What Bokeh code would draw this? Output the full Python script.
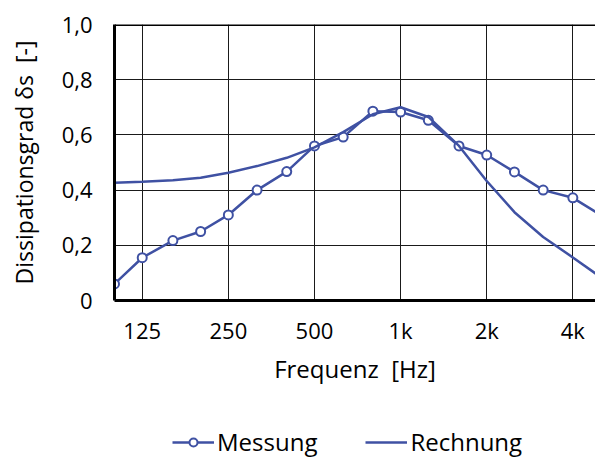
from bokeh.plotting import figure
from bokeh.layouts import column
from bokeh.models import FixedTicker, Legend, LegendItem, Span
from bokeh.embed import file_html
from bokeh.resources import INLINE

# third-octave band centre frequencies [Hz]
freq = [100, 125, 160, 200, 250, 315, 400, 500, 630, 800, 1000, 1250, 1600, 2000, 2500, 3150, 4000, 5000]
# measured dissipation degree
messung = [0.06, 0.155, 0.217, 0.25, 0.31, 0.40, 0.467, 0.56, 0.592, 0.686, 0.683, 0.653, 0.56, 0.527, 0.466, 0.40, 0.372, 0.31]
# calculated dissipation degree
rechnung = [0.427, 0.43, 0.436, 0.445, 0.463, 0.487, 0.517, 0.555, 0.61, 0.675, 0.70, 0.665, 0.56, 0.433, 0.32, 0.23, 0.156, 0.085]

x_ticks = [125, 250, 500, 1000, 2000, 4000]
x_tick_labels = ["125", "250", "500", "1k", "2k", "4k"]
y_ticks = [0, 0.2, 0.4, 0.6, 0.8, 1.0]
y_tick_labels = ["0", "0,2", "0,4", "0,6", "0,8", "1,0"]

FONT = "Open Sans"
BLUE = "#3F51A3"
FS_TICK = "22px"
FS_LABEL = "24px"

p = figure(width=595, height=410, x_axis_type="log", x_range=(100, 4800), y_range=(0, 1),
           output_backend="svg", toolbar_location=None,
           min_border_left=114, min_border_right=0, min_border_top=24, min_border_bottom=110)
p.outline_line_color = None
p.background_fill_color = "white"

l1 = p.line(freq, messung, line_color=BLUE, line_width=2.5)
s1 = p.scatter(freq, messung, size=9, fill_color="white", line_color=BLUE, line_width=2)
l2 = p.line(freq, rechnung, line_color=BLUE, line_width=2.5, line_join="round")

# axes
p.xaxis.ticker = FixedTicker(ticks=x_ticks)
p.xaxis.major_label_overrides = {t: l for t, l in zip(x_ticks, x_tick_labels)}
p.yaxis.ticker = FixedTicker(ticks=y_ticks)
p.yaxis.major_label_overrides = {t: l for t, l in zip(y_ticks, y_tick_labels)}
for ax in (p.xaxis[0], p.yaxis[0]):
    ax.axis_line_width = 3
    ax.axis_line_color = "black"
    ax.major_tick_line_color = None
    ax.minor_tick_line_color = None
    ax.major_tick_out = 0
    ax.major_tick_in = 0
    ax.major_label_text_font = FONT
    ax.major_label_text_font_size = FS_TICK
    ax.major_label_text_color = "black"
    ax.axis_label_text_font = FONT
    ax.axis_label_text_font_style = "normal"
    ax.axis_label_text_color = "black"
p.xaxis.axis_label = "Frequenz\u00a0\u00a0[Hz]"
p.xaxis.axis_label_text_font_size = FS_LABEL
p.yaxis.axis_label = "Dissipationsgrad \u03b4s\u00a0\u00a0[-]"
p.yaxis.axis_label_text_font_size = "23px"
p.xaxis.major_label_standoff = 14
p.xaxis.axis_label_standoff = 4
p.yaxis.major_label_standoff = 22
p.yaxis.axis_label_standoff = 19

p.xgrid.ticker = FixedTicker(ticks=x_ticks)
p.xgrid.grid_line_color = "#1a1a1a"
p.xgrid.grid_line_width = 1
p.ygrid.grid_line_color = "#1a1a1a"
p.ygrid.grid_line_width = 1

p.add_layout(Span(location=1.0, dimension="width", line_color="black", line_width=3))

# legend in a separate strip below the chart (its frame is aligned with the chart's frame)
nan = float("nan")
q = figure(width=595, height=48, x_range=(0, 1), y_range=(0, 1), output_backend="svg",
           toolbar_location=None, min_border=0)
q.axis.visible = False
q.grid.visible = False
q.outline_line_color = None
ql1 = q.line([nan], [nan], line_color=BLUE, line_width=2.5)
qs1 = q.scatter([nan], [nan], size=8, fill_color="white", line_color=BLUE, line_width=2)
ql2 = q.line([nan], [nan], line_color=BLUE, line_width=2.5)
legend = Legend(items=[LegendItem(label="Messung", renderers=[ql1, qs1]),
                       LegendItem(label="Rechnung", renderers=[ql2])],
                orientation="horizontal", location=(58, 0),
                label_text_font=FONT, label_text_font_size=FS_LABEL, label_text_color="black",
                glyph_width=42, glyph_height=20, label_standoff=3, spacing=48,
                padding=0, margin=0, border_line_color=None, background_fill_alpha=0)
q.add_layout(legend, "center")

layout = column(p, q, spacing=0)
open("out.html", "w").write(file_html(layout, INLINE))
